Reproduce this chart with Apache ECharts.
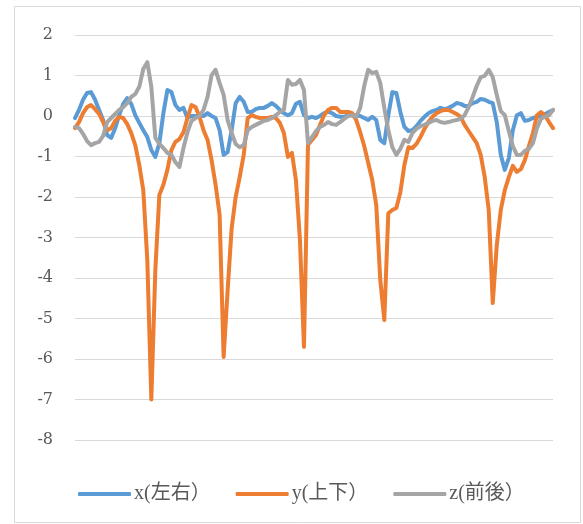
<!DOCTYPE html>
<html>
<head>
<meta charset="utf-8">
<script src="https://cdn.jsdelivr.net/npm/echarts@6/dist/echarts.min.js"></script>
<style>
  html, body { margin: 0; padding: 0; background: #fff; }
  #chart { width: 583px; height: 524px; }
</style>
</head>
<body>
<div id="chart"></div>
<script>
// Sensor readings: acceleration on three axes
const seriesNames = ['x(左右）', 'y(上下）', 'z(前後）'];
const yTicks = { min: -8, max: 2, step: 1 };

const xValues = [
  -0.05, 0.15, 0.40, 0.57, 0.59, 0.40, 0.15, -0.10, -0.47, -0.54,
  -0.30, 0.02, 0.30, 0.44, 0.30, 0.02, -0.17, -0.35, -0.52, -0.84,
  -1.01, -0.67, 0.07, 0.64, 0.59, 0.27, 0.15, 0.20, -0.05, 0.00,
  0.00, 0.00, 0.00, 0.07, 0.00, -0.05, -0.35, -0.96, -0.89, -0.35,
  0.32, 0.47, 0.35, 0.10, 0.10, 0.17, 0.20, 0.20, 0.25, 0.32,
  0.25, 0.15, 0.07, 0.02, 0.07, 0.30, 0.35, 0.02, -0.05, -0.02,
  -0.05, 0.00, 0.07, 0.10, 0.07, 0.00, -0.02, -0.02, 0.02, 0.02,
  0.02, 0.00, -0.05, -0.10, -0.02, -0.10, -0.59, -0.67, 0.02, 0.59,
  0.57, 0.10, -0.27, -0.37, -0.35, -0.25, -0.12, -0.02, 0.07, 0.12,
  0.15, 0.20, 0.17, 0.20, 0.25, 0.32, 0.30, 0.25, 0.25, 0.32,
  0.35, 0.42, 0.40, 0.35, 0.32, -0.15, -0.96, -1.33, -1.04, -0.35,
  0.02, 0.07, -0.12, -0.10, -0.05, -0.02, 0.00, 0.05, 0.10, 0.15
];

const yValues = [
  -0.30, -0.15, 0.07, 0.22, 0.27, 0.17, 0.05, -0.15, -0.35, -0.30,
  -0.12, -0.02, -0.05, -0.20, -0.42, -0.72, -1.21, -1.83, -3.56, -7.00,
  -3.80, -1.95, -1.70, -1.33, -0.84, -0.64, -0.57, -0.40, -0.05, 0.27,
  0.22, -0.02, -0.35, -0.59, -1.09, -1.70, -2.44, -5.95, -4.30, -2.77,
  -2.00, -1.51, -0.96, -0.05, 0.02, -0.02, -0.05, -0.05, -0.05, -0.02,
  -0.05, -0.17, -0.42, -1.01, -0.91, -1.58, -3.06, -5.70, -0.72, -0.59,
  -0.47, -0.22, 0.02, 0.15, 0.20, 0.20, 0.10, 0.10, 0.10, 0.07,
  -0.10, -0.40, -0.74, -1.16, -1.58, -2.20, -4.05, -5.04, -2.40, -2.32,
  -2.27, -1.88, -1.21, -0.77, -0.79, -0.69, -0.52, -0.32, -0.15, -0.02,
  0.07, 0.12, 0.15, 0.15, 0.10, 0.05, -0.02, -0.22, -0.37, -0.52,
  -0.67, -0.96, -1.51, -2.32, -4.62, -3.19, -2.32, -1.83, -1.51, -1.23,
  -1.38, -1.31, -1.09, -0.74, -0.42, 0.02, 0.10, 0.02, -0.15, -0.30
];

const zValues = [
  -0.27, -0.30, -0.44, -0.62, -0.72, -0.67, -0.64, -0.49, -0.15, -0.05,
  0.05, 0.15, 0.22, 0.32, 0.47, 0.54, 0.72, 1.16, 1.33, 0.72,
  -0.54, -0.69, -0.79, -0.91, -0.96, -1.14, -1.26, -0.79, -0.40, -0.12,
  -0.05, 0.00, 0.15, 0.47, 1.01, 1.14, 0.81, 0.52, -0.10, -0.42,
  -0.69, -0.77, -0.72, -0.35, -0.27, -0.22, -0.17, -0.12, -0.10, -0.05,
  0.02, 0.10, 0.15, 0.89, 0.77, 0.79, 0.89, 0.64, -0.67, -0.52,
  -0.37, -0.27, -0.22, -0.15, -0.20, -0.22, -0.15, -0.07, 0.00, 0.02,
  -0.02, 0.20, 0.74, 1.14, 1.06, 1.09, 0.81, 0.20, -0.35, -0.77,
  -0.96, -0.81, -0.59, -0.64, -0.42, -0.32, -0.25, -0.22, -0.17, -0.12,
  -0.10, -0.15, -0.17, -0.15, -0.12, -0.10, -0.07, 0.02, 0.22, 0.47,
  0.74, 0.96, 0.99, 1.14, 0.96, 0.52, 0.12, 0.02, -0.37, -0.74,
  -0.96, -0.96, -0.86, -0.81, -0.67, -0.30, -0.07, -0.02, 0.02, 0.15
];

const sampleIndex = xValues.map((_, i) => i + 1);
const colors = ['#5B9BD5', '#ED7D31', '#A5A5A5'];
const serifFont = "'DejaVu Serif', 'Liberation Serif', serif";
const legendFont = "'Liberation Serif', 'Noto Sans CJK JP', serif";

const chart = echarts.init(document.getElementById('chart'), null, { renderer: 'canvas' });

function lineSeries(name, data, color) {
  return {
    name: name,
    type: 'line',
    data: data,
    symbol: 'none',
    smooth: false,
    color: color,
    lineStyle: { width: 4, color: color, cap: 'round', join: 'round' },
    emphasis: { disabled: true }
  };
}

chart.setOption({
  animation: false,
  backgroundColor: '#ffffff',
  graphic: [{
    type: 'rect',
    shape: { x: 14.5, y: 6.5, width: 566, height: 516 },
    style: { fill: 'none', stroke: '#d9d9d9', lineWidth: 1 },
    silent: true,
    z: -1
  }],
  grid: { left: 75, right: 30, top: 35, bottom: 84 },
  xAxis: {
    type: 'category',
    data: sampleIndex,
    boundaryGap: false,
    axisLine: { show: false },
    axisTick: { show: false },
    axisLabel: { show: false },
    splitLine: { show: false }
  },
  yAxis: {
    type: 'value',
    min: yTicks.min,
    max: yTicks.max,
    interval: yTicks.step,
    axisLine: { show: false },
    axisTick: { show: false },
    axisLabel: {
      color: '#595959',
      fontFamily: serifFont,
      fontSize: 16,
      margin: 22
    },
    splitLine: { lineStyle: { color: '#d9d9d9', width: 1 } }
  },
  legend: {
    left: 73,
    top: 479,
    itemWidth: 53,
    itemHeight: 4,
    itemGap: 25,
    icon: 'roundRect',
    textStyle: {
      color: '#595959',
      fontFamily: legendFont,
      fontSize: 20,
      width: 79,
      padding: [0, 0, 0, -2]
    },
    data: seriesNames
  },
  series: [
    lineSeries(seriesNames[0], xValues, colors[0]),
    lineSeries(seriesNames[1], yValues, colors[1]),
    lineSeries(seriesNames[2], zValues, colors[2])
  ]
});
</script>
</body>
</html>
